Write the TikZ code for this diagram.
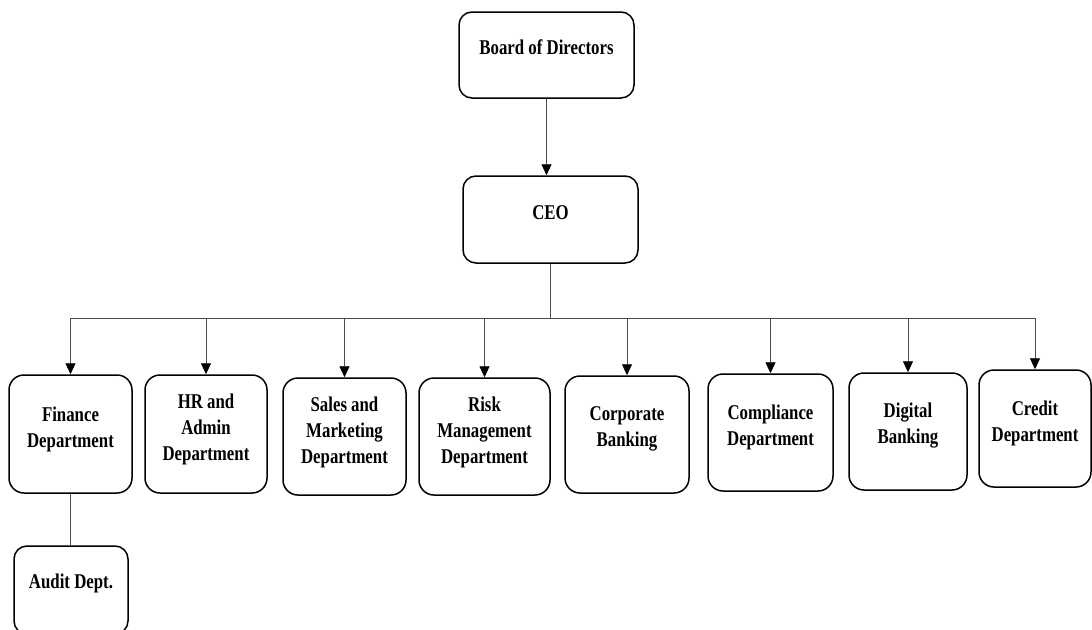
\documentclass[tikz,border=0pt]{standalone}
\usepackage{fontspec}
\setmainfont{Liberation Serif}[FakeStretch=0.8]
\usetikzlibrary{arrows.meta}

\tikzset{
  unit/.style={draw, line width=1.5pt, rounded corners=15pt, minimum height=117pt, inner sep=0pt},
  unittext/.style={align=center, font=\fontsize{21}{26}\selectfont\bfseries},
  link/.style={line width=0.9pt, draw=black!70},
  arrow/.style={link, -{Triangle[length=11pt,width=10pt,color=black]}},
}

\begin{document}
\begin{tikzpicture}[x=1pt, y=-1pt]
  \useasboundingbox (0,0) rectangle (1092,629);
  \clip (0,0) rectangle (1092,629);

  % board and CEO
  \node[unit, minimum width=175pt, minimum height=86pt, rounded corners=13pt] (board) at (546.5,55) {};
  \node[unittext] (board-t) at ([yshift=8pt]board.center) {Board of Directors};
  \node[unit, minimum width=175pt, minimum height=87pt, rounded corners=13pt] (ceo) at (550.5,219.5) {};
  \node[unittext] (ceo-t) at ([yshift=7pt]ceo.center) {CEO};

  % departments
  \node[unit, minimum width=123pt, minimum height=118pt] (fin) at (70.5,434) {};
  \node[unittext] (fin-t) at ([yshift=5pt]fin.center) {Finance\\Department};
  \node[unit, minimum width=122pt, minimum height=118pt] (hr) at (206,434) {};
  \node[unittext] (hr-t) at ([yshift=5pt]hr.center) {HR and\\Admin\\Department};
  \node[unit, minimum width=123pt] (sales) at (344.5,436.5) {};
  \node[unittext] (sales-t) at ([yshift=4.5pt]sales.center) {Sales and\\Marketing\\Department};
  \node[unit, minimum width=131pt] (risk) at (484.5,436.5) {};
  \node[unittext] (risk-t) at ([yshift=4.5pt]risk.center) {Risk\\Management\\Department};
  \node[unit, minimum width=124pt] (corp) at (627,434.5) {};
  \node[unittext] (corp-t) at ([yshift=5.5pt]corp.center) {Corporate\\Banking};
  \node[unit, minimum width=125pt] (comp) at (770.5,432.5) {};
  \node[unittext] (comp-t) at ([yshift=5.5pt]comp.center) {Compliance\\Department};
  \node[unit, minimum width=118pt] (dig) at (908,431.5) {};
  \node[unittext] (dig-t) at ([yshift=5.5pt]dig.center) {Digital\\Banking};
  \node[unit, minimum width=112pt] (cred) at (1035,428.5) {};
  \node[unittext] (cred-t) at ([yshift=5pt]cred.center) {Credit\\Department};

  % under finance
  \node[unit, minimum width=114pt, minimum height=88pt, rounded corners=13pt] (audit) at (71,590) {};
  \node[unittext] (audit-t) at ([yshift=6.5pt]audit.center) {Audit Dept.};

  % connectors
  \coordinate (bus) at (0,318);
  \draw[arrow] (board.south) -- (ceo.north -| board.south);
  \draw[link] (ceo.south) -- (ceo.south |- bus);
  \draw[link] (fin.north |- bus) -- (cred.north |- bus);
  \draw[arrow] (fin.north |- bus) -- (fin.north);
  \draw[arrow] (hr.north |- bus) -- (hr.north);
  \draw[arrow] (sales.north |- bus) -- (sales.north);
  \draw[arrow] (risk.north |- bus) -- (risk.north);
  \draw[arrow] (corp.north |- bus) -- (corp.north);
  \draw[arrow] (comp.north |- bus) -- (comp.north);
  \draw[arrow] (dig.north |- bus) -- (dig.north);
  \draw[arrow] (cred.north |- bus) -- (cred.north);
  \draw[link] (fin.south) -- (audit.north -| fin.south);
\end{tikzpicture}
\end{document}
